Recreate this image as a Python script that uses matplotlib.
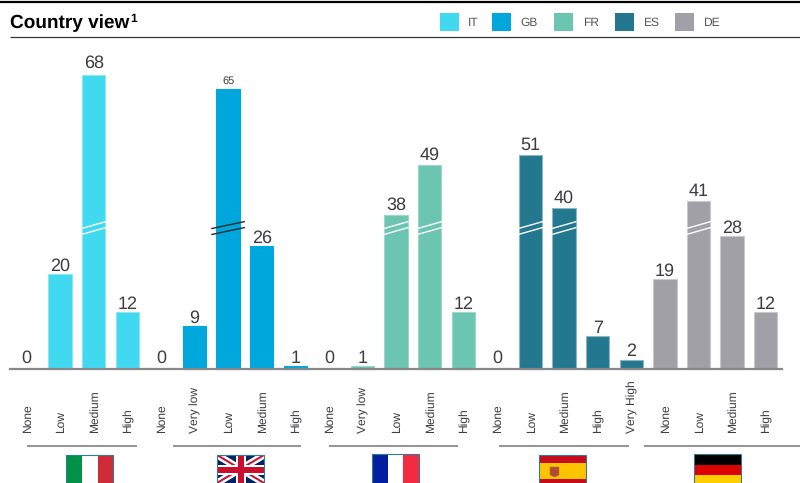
import matplotlib
matplotlib.use('Agg')
import matplotlib.pyplot as plt
from matplotlib.patches import Rectangle, Polygon
from matplotlib.transforms import Affine2D, ScaledTranslation

plt.rcParams['font.family'] = ['Liberation Sans', 'DejaVu Sans']
plt.rcParams['text.hinting'] = 'no_hinting'
plt.rcParams['text.hinting_factor'] = 1

countries = ['IT', 'GB', 'FR', 'ES', 'DE']
colors = ['#41d9ef', '#00a7dd', '#6cc5b0', '#23788f', '#a1a0a6']
edge_colors = ['#8ae8f5', '#00a7dd', '#9ad8ca', '#8fb5c3', '#c9c8cc']

it_labels = ['None', 'Low', 'Medium', 'High']
it_values = [0, 20, 68, 12]
gb_labels = ['None', 'Very low', 'Low', 'Medium', 'High']
gb_values = [0, 9, 65, 26, 1]
fr_labels = ['None', 'Very low', 'Low', 'Medium', 'High']
fr_values = [0, 1, 38, 49, 12]
es_labels = ['None', 'Low', 'Medium', 'High', 'Very High']
es_values = [0, 51, 40, 7, 2]
de_labels = ['None', 'Low', 'Medium', 'High']
de_values = [19, 41, 28, 12]

# broken bars: how many units the break removes from the drawn height
it_broken = {'Medium': 6}
gb_broken = {'Low': 6}
fr_broken = {'Low': 5.6, 'Medium': 6}
es_broken = {'Low': 6, 'Medium': 6}
de_broken = {'Low': 5.6}

all_labels = [it_labels, gb_labels, fr_labels, es_labels, de_labels]
all_values = [it_values, gb_values, fr_values, es_values, de_values]
all_broken = [it_broken, gb_broken, fr_broken, es_broken, de_broken]

UNIT = 4.75   # px per value unit
BREAK_Y = 30.3
BAR_W = 0.7
TEXT_COL = '#3c3c41'
ZERO_COLS = ['#2f8fa5', '#1b7fa8', None, None, None]

fig = plt.figure(figsize=(8, 4.83), dpi=100)
ax = fig.add_axes([0, 0, 1, 1])
# one bar step is 33.6 px
ax.set_xlim(-26.5 / 33.6, (800 - 26.5) / 33.6)
ax.set_ylim(-114 / UNIT, 369 / UNIT)
ax.axis('off')

# pixel coordinates for the page furniture (y going down)
pix = Affine2D().scale(1 / 800, -1 / 483).translate(0, 1) + fig.transFigure
# tick labels sit one pixel right of the bar centre
tick_shift = ax.transData + ScaledTranslation(1 / 100, 0, fig.dpi_scale_trans)


def rect(x0, y0, x1, y1, col, z=3, clip=None):
    r = Rectangle((x0, y0), x1 - x0, y1 - y0, facecolor=col, edgecolor='none',
                  transform=pix, zorder=z)
    ax.add_patch(r)
    if clip is not None:
        r.set_clip_path(clip)
    return r


def rule(x0, x1, y, col, lw):
    ax.plot([x0, x1], [y, y], color=col, lw=lw, transform=pix, clip_on=False,
            solid_capstyle='butt', zorder=4)


def label_gap(value, broken):
    # gap between bar top and label, in px
    if value == 0:
        return 6
    if value == 65:
        return 5
    if value == 68:
        return 7
    if broken:
        return 5
    return 3


pos = 0
for g, country in enumerate(countries):
    for label, value in zip(all_labels[g], all_values[g]):
        broken = label in all_broken[g]
        height = value - all_broken[g][label] if broken else value
        if value == 1:
            height = 0.6  # the one-point bars are drawn thinner than scale
        if value == 0:
            if ZERO_COLS[g]:
                ax.bar(pos, 0.25, BAR_W + 0.05, color=ZERO_COLS[g], zorder=2)
        else:
            ax.bar(pos, height, BAR_W, color=colors[g], edgecolor=edge_colors[g],
                   linewidth=0.8, zorder=2)
        small = value == 65
        ax.text(pos, height + label_gap(value, broken) / UNIT, str(value), ha='center',
                va='baseline', fontsize=8 if small else 13, color=TEXT_COL, zorder=5)
        if broken:
            over = 0.5 if country == 'GB' else 0.37
            col = '#2a2a2e' if country == 'GB' else 'white'
            for dy in (0, -1.25):
                ax.plot([pos - over, pos + over],
                        [BREAK_Y + dy - 0.75, BREAK_Y + dy + 0.75],
                        color=col, lw=1, zorder=4, solid_capstyle='butt')
        ax.text(pos, -64 / UNIT, label, rotation=90, ha='center', va='bottom',
                fontsize=8.3, color=TEXT_COL, transform=tick_shift)
        pos += 1

ax.axhline(0, xmin=10 / 800, xmax=782 / 800, color='#88888b', lw=1.6, zorder=3)

# header
rule(0, 800, 2, 'black', 1.6)
rule(10, 800, 37.2, '#333338', 0.9)
ax.text(10, 28.5, 'Country view', transform=pix, fontsize=13.7, fontweight='bold',
        color='black', ha='left', va='baseline')
ax.text(130.5, 22, '1', transform=pix, fontsize=8.5, fontweight='bold',
        color='black', ha='left', va='baseline')

# legend
legend_x = [440, 492, 554, 615, 675]
legend_text_x = [468, 520, 583, 643, 703]
for g, country in enumerate(countries):
    rect(legend_x[g], 13, legend_x[g] + 19, 31, colors[g])
    ax.text(legend_text_x[g], 26, country, transform=pix, fontsize=8.5,
            color='#58585a', ha='left', va='baseline')

# rules under the tick labels
group_rules = [(27, 137), (173, 301), (329, 458), (499, 629), (644, 800)]
for x0, x1 in group_rules:
    rule(x0, x1, 446, '#77777a', 1.1)


# flags
FLAG_W = 47
FLAG_EDGE = '#2f7f93'


def flag_frame(x0, y0):
    ax.add_patch(Rectangle((x0, y0), FLAG_W, 483 - y0 + 3, facecolor='none',
                           edgecolor=FLAG_EDGE, lw=0.8, transform=pix, zorder=6))


# Italy
rect(66, 455, 82, 484, '#009246')
rect(82, 455, 98, 484, 'white')
rect(98, 455, 113, 484, '#ce2b37')
flag_frame(66, 455)

# United Kingdom
clip = rect(217, 455, 264, 484, '#012169')
for w, col in ((7, 'white'), (2, '#c8102e')):
    line1 = ax.plot([217, 264], [455, 483], color=col, lw=w * 0.72, transform=pix, zorder=4)[0]
    line2 = ax.plot([217, 264], [483, 455], color=col, lw=w * 0.72, transform=pix, zorder=4)[0]
    line1.set_clip_path(clip)
    line2.set_clip_path(clip)
rect(217, 465, 264, 475, 'white', z=5)
rect(236, 455, 246, 484, 'white', z=5)
rect(217, 467, 264, 473, '#c8102e', z=5)
rect(238, 455, 244, 484, '#c8102e', z=5)
flag_frame(217, 455)

# France
rect(372, 454, 388, 484, '#00209f')
rect(388, 454, 403, 484, 'white')
rect(403, 454, 419, 484, '#f42a41')
flag_frame(372, 454)

# Spain
rect(539, 455, 586, 463, '#c60b1e')
rect(539, 463, 586, 479, '#ffc400')
rect(539, 479, 586, 484, '#c60b1e')
ax.add_patch(Polygon([(550, 467), (559, 467), (559, 475), (554.5, 477), (550, 475)],
                     closed=True, facecolor='#b5482f', edgecolor='#a08040', lw=0.5,
                     transform=pix, zorder=5))
flag_frame(539, 455)

# Germany
rect(694, 454, 741, 465, 'black')
rect(694, 465, 741, 475, '#dd0000')
rect(694, 475, 741, 484, '#ffce00')
flag_frame(694, 454)

fig.savefig('out.png', dpi=100)
